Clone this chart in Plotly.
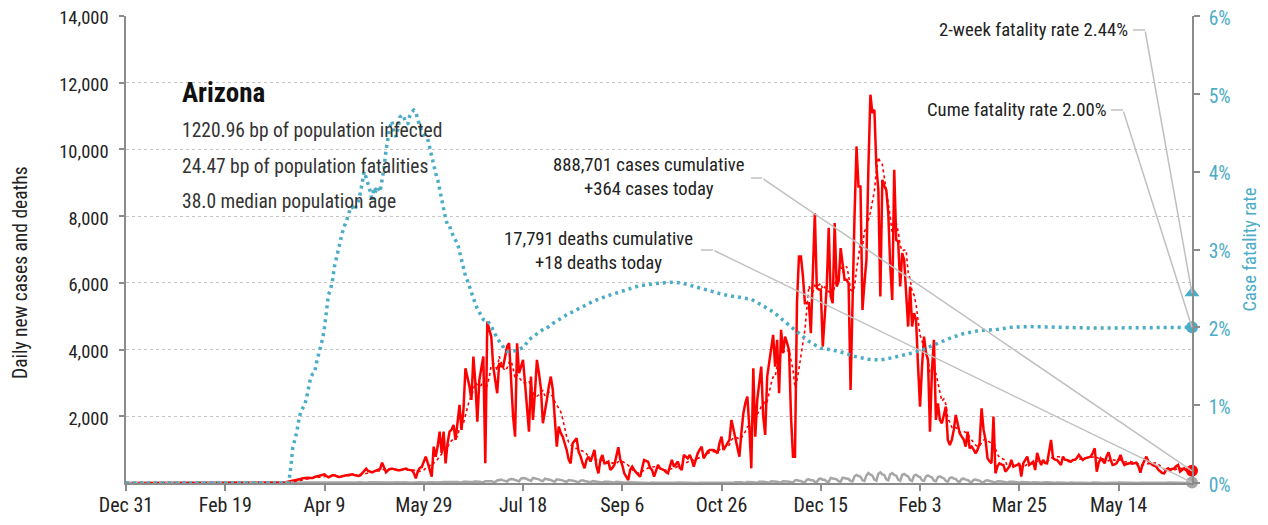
import plotly.graph_objects as go
import pandas as pd

# ---------------- data ----------------
START = "2019-12-31"
state_name = "Arizona"
stats_lines = ["1220.96 bp of population infected",
               "24.47 bp of population fatalities",
               "38.0 median population age"]
cum_cases = 888701
cum_deaths = 17791
two_week_rate = 2.44   # percent
cume_rate = 2.00       # percent

xtick_days = [0, 50, 100, 150, 200, 250, 300, 350, 400, 450, 500]
xtick_text = ["Dec 31", "Feb 19", "Apr 9", "May 29", "Jul 18", "Sep 6",
              "Oct 26", "Dec 15", "Feb 3", "Mar 25", "May 14"]
ytick_vals = [2000, 4000, 6000, 8000, 10000, 12000, 14000]
y2tick_vals = [0, 0.01, 0.02, 0.03, 0.04, 0.05, 0.06]

# daily new cases, day 0 = Dec 31 2019
cases = [
    0, 0, 0, 0, 0, 0, 0, 0, 0, 0, 0, 0, 0, 0, 0, 0, 0, 0, 0, 0,
    0, 0, 0, 0, 0, 0, 0, 0, 0, 0, 0, 0, 0, 0, 0, 0, 0, 0, 0, 0,
    0, 0, 0, 0, 0, 0, 0, 0, 0, 0, 0, 0, 0, 0, 0, 0, 0, 0, 0, 0,
    0, 0, 0, 0, 0, 0, 0, 0, 0, 0, 0, 0, 0, 0, 0,
    1, 2, 4, 6, 10, 20,
    30, 40, 50, 60, 80, 90, 110, 120, 140, 150,
    170, 160, 150, 150, 180, 200, 210, 220, 240, 260,
    210, 170, 200, 230, 230, 200, 180, 190, 210, 230,
    230, 240, 250, 260, 240, 220, 210, 230, 300, 380,
    430, 360, 330, 320, 350, 370, 400, 420, 610, 450,
    320, 380, 420, 430, 410, 390, 380, 380, 400, 420,
    430, 400, 390, 380, 300, 140, 350, 450, 480, 620,
    790, 600, 400, 190, 1090, 790, 1100, 1540, 900, 1540,
    590, 1200, 1540, 1600, 1740, 1290, 1800, 2340, 1590, 2200,
    3440, 3190, 2900, 2490, 3790, 3000, 1840, 3090, 3400, 3790,
    590, 4840, 4600, 4390, 3490, 3000, 2690, 3590, 3500, 3490,
    3800, 4090, 4190, 2990, 2000, 1390, 4190, 3290, 3500, 3690,
    2990, 2200, 1540, 3190, 1890, 2700, 3690, 3300, 2840, 1790,
    2100, 2490, 2900, 3190, 2790, 1800, 1090, 1690, 1500, 1390,
    1200, 990, 700, 590, 1190, 1250, 1340, 940, 800, 600,
    440, 700, 790, 640, 800, 990, 500, 290, 700, 840,
    590, 600, 640, 390, 450, 540, 800, 1070, 700, 540,
    290, 200, 90, 400, 490, 390, 300, 250, 190, 400,
    690, 660, 640, 450, 390, 190, 400, 540, 440, 420,
    390, 330, 290, 500, 690, 490, 560, 640, 450, 390,
    840, 780, 740, 840, 700, 490, 700, 890, 1000, 1090,
    740, 850, 940, 990, 990, 990, 950, 890, 1200, 1390,
    990, 1090, 1200, 1290, 1890, 1600, 1390, 1000, 790, 1500,
    2090, 2400, 2590, 1690, 440, 3440, 1390, 2500, 3090, 3490,
    2000, 1440, 3190, 3600, 4090, 4440, 3490, 4290, 2690, 4590,
    3890, 4390, 4200, 3990, 1990, 790, 790, 5390, 6790, 6790,
    6200, 5390, 5390, 5390, 4490, 6500, 8090, 5850, 5800, 5800,
    4090, 5000, 5890, 7650, 5590, 5390, 7790, 5890, 6040, 7040,
    6500, 6090, 6090, 5990, 2790, 5690, 8000, 10090, 8890, 8890,
    5190, 6000, 6690, 9490, 11640, 11090, 11190, 9490, 8790, 5590,
    9090, 8900, 8790, 8090, 6490, 5490, 9390, 7290, 7240, 5890,
    6890, 6690, 5500, 4690, 5890, 4690, 5090, 4890, 3500, 2290,
    3500, 4390, 3900, 3690, 1540, 3390, 4290, 1890, 2390, 1890,
    1790, 2000, 2290, 1290, 1140, 1290, 1600, 2040, 1700, 1490,
    1390, 1300, 1090, 1540, 1040, 1090, 1000, 890, 1000, 1190,
    2240, 1600, 1290, 740, 650, 590, 1990, 290, 500, 590,
    560, 540, 340, 420, 490, 690, 490, 520, 540, 590,
    190, 590, 700, 790, 540, 600, 640, 390, 900, 700,
    540, 690, 600, 590, 900, 1290, 740, 700, 690, 600,
    540, 790, 700, 690, 650, 640, 690, 700, 750, 840,
    750, 690, 740, 760, 780, 790, 900, 1040, 340, 600,
    740, 650, 590, 800, 920, 700, 540, 560, 590, 700,
    840, 650, 540, 570, 590, 600, 580, 590, 610, 500,
    310, 540, 650, 790, 650, 590, 550, 510, 490, 400,
    340, 300, 290, 400, 440, 390, 420, 440, 500, 540,
    340, 400, 440, 380, 340, 400, 364,
]

# daily new deaths, day 0 = Dec 31 2019
deaths = [
    0, 0, 0, 0, 0, 0, 0, 0, 0, 0, 0, 0, 0, 0, 0, 0, 0, 0, 0, 0,
    0, 0, 0, 0, 0, 0, 0, 0, 0, 0, 0, 0, 0, 0, 0, 0, 0, 0, 0, 0,
    0, 0, 0, 0, 0, 0, 0, 0, 0, 0, 0, 0, 0, 0, 0, 0, 0, 0, 0, 0,
    0, 0, 0, 0, 0, 0, 0, 0, 0, 0, 0, 0, 0, 0, 0, 0, 0, 0, 0, 0,
    1, 0, 2, 1, 3, 2, 4, 3, 5, 4, 6, 5, 8, 6, 10, 8, 12, 9, 14, 10,
    12, 15, 10, 8, 14, 18, 16, 12, 20, 10, 8, 15, 22, 18, 16, 14, 12, 20, 25, 18,
    15, 10, 22, 20, 17, 15, 12, 18, 25, 20, 14,
    10, 12, 18, 20, 15, 22, 14, 8, 16, 25, 18, 20, 12, 10, 15, 22, 24, 18, 20, 14,
    10, 20, 25, 30, 22, 15, 12, 18, 25, 28,
    30, 25, 15, 20, 30, 35, 28, 20, 18, 40, 45, 38, 30, 25, 35, 45, 50, 40, 22, 20, 55,
    60, 70, 55, 40, 30, 75, 90, 100, 80, 60, 45, 100, 120, 110, 95, 70, 50, 130, 150, 140,
    120, 80, 60, 150, 140, 120, 110, 70, 55, 130, 120,
    100, 90, 60, 40, 110, 100, 95, 80, 50, 35, 90, 85, 75, 60, 40, 25, 70, 80, 60, 50,
    30, 20, 55, 50, 45, 35, 20, 15, 40, 45, 35,
    30, 15, 10, 35, 30, 25, 20, 12, 8, 25, 22, 20, 18, 10, 5, 20, 18, 15, 12, 5,
    3, 15, 20, 12, 10, 5, 3, 12, 15, 10,
    8, 5, 3, 10, 15, 12, 8, 5, 3, 12, 10, 8, 6, 4, 2, 10, 12, 15, 10, 5,
    3, 15, 18, 12, 10, 6, 4, 20, 18, 15, 12,
    8, 5, 25, 30, 22, 20, 10, 6, 30, 35, 28, 25, 12, 8, 40, 45, 35, 30, 15, 10,
    50, 48, 40, 35, 18, 12, 55, 60, 45, 40,
    20, 15, 80, 90, 70, 60, 25, 20, 100, 110, 85, 80, 35, 25, 120, 130, 100, 95, 45, 30,
    150, 140, 120, 110, 50, 40, 160, 150, 130, 120, 60,
    50, 200, 240, 210, 190, 80, 60, 230, 300, 250, 220, 100, 70, 280, 320, 260, 240, 110, 80, 260,
    300, 240, 220, 100, 70, 240, 270, 230, 200, 90, 60,
    220, 250, 200, 180, 80, 60, 200, 230, 190, 170, 70, 50, 180, 200, 160, 140, 60, 40, 150, 170,
    130, 120, 50, 35, 120, 130, 100, 90,
    40, 30, 90, 100, 80, 70, 30, 20, 70, 80, 60, 50, 25, 15, 55, 60, 45, 40, 20, 12,
    40, 45, 35, 30, 15, 10, 30, 35, 25, 20, 10,
    8, 25, 30, 20, 18, 8, 5, 20, 25, 18, 15, 6, 4, 18, 20, 15, 12, 5, 3, 15,
    18, 12, 10, 4, 3, 14, 16, 12, 10, 4, 3,
    12, 15, 10, 8, 4, 3, 12, 14, 10, 8, 3, 2, 10, 12, 9, 8, 3, 2, 12, 14,
    10, 8, 3, 2, 10, 12, 9, 7, 3, 2, 8,
    10, 12, 9, 8, 3, 2, 10, 14, 11, 9, 3, 2, 12, 15, 10, 8, 3, 2, 10, 18,
]

# cumulative case fatality rate (percent), sampled at these day numbers
cfr_day = [0, 81, 82, 83, 84, 85, 86, 87, 88, 89, 90, 91, 92, 93, 94, 95, 96, 97, 98, 99,
           100, 101, 102, 103, 104, 105, 106, 107, 108, 109, 110, 111, 112, 113, 114, 115,
           116, 117, 118, 119, 120, 121, 122, 123, 124, 125, 126, 127, 128, 129, 130, 131,
           132, 133, 134, 135, 136, 137, 138, 139, 140, 141, 142, 143, 144, 145, 146, 147,
           148, 149, 150, 151, 152, 153, 154, 155, 156, 157, 158, 159, 160, 161, 162, 163,
           164, 165, 166, 167, 168, 169, 170, 171, 172, 173, 174, 175, 176, 177, 178, 179,
           180, 181, 182, 183, 184, 185, 186, 187, 188, 189, 190, 191, 192, 193, 194, 195,
           196, 197, 198, 199, 200, 201, 202, 203, 204, 205, 206, 207, 208, 209, 210, 211,
           212, 213, 214, 215, 222, 228, 235, 242, 250, 258, 266, 274, 280, 287, 294, 301,
           308, 315, 320, 326, 332, 337, 341, 344, 350, 356, 362, 368, 374, 380, 386, 390,
           396, 402, 409, 416, 422, 430, 438, 446, 455, 463, 472, 488, 505, 521, 537]
cfr_pct = [0, 0, 0.0, 0.2, 0.45, 0.55, 0.65, 0.8, 0.92, 0.96, 1.0, 1.1, 1.24, 1.35, 1.4, 1.42,
           1.55, 1.65, 1.75, 1.85, 2.0, 2.25, 2.42, 2.48, 2.6, 2.78, 2.9, 3.0, 3.12, 3.22,
           3.3, 3.36, 3.45, 3.52, 3.55, 3.5, 3.56, 3.62, 3.72, 3.9, 4.0, 3.92, 3.85, 3.75,
           3.62, 3.8, 3.76, 3.8, 3.74, 3.88, 4.05, 4.28, 4.45, 4.58, 4.65, 4.48, 4.45, 4.55,
           4.7, 4.73, 4.7, 4.62, 4.62, 4.72, 4.77, 4.79, 4.76, 4.65, 4.58, 4.52, 4.47, 4.44,
           4.42, 4.30, 4.2, 4.06, 3.98, 3.9, 3.76, 3.62, 3.5, 3.4, 3.31, 3.3, 3.22, 3.16,
           3.12, 3.08, 2.98, 2.86, 2.74, 2.66, 2.6, 2.52, 2.46, 2.36, 2.3, 2.24, 2.2, 2.16,
           2.1, 2.09, 2.09, 2.05, 2.02, 1.96, 1.9, 1.86, 1.82, 1.79, 1.75, 1.71, 1.69, 1.69,
           1.69, 1.69, 1.7, 1.71, 1.72, 1.73, 1.74, 1.77, 1.81, 1.84, 1.86, 1.88, 1.9, 1.92,
           1.94, 1.96, 1.98, 1.99, 1.99, 2.01, 2.03, 2.05, 2.16, 2.24, 2.33, 2.40, 2.47,
           2.53, 2.56, 2.58, 2.57, 2.52, 2.47, 2.42, 2.39, 2.36, 2.29, 2.20, 2.07, 1.97,
           1.89, 1.82, 1.73, 1.71, 1.67, 1.62, 1.59, 1.58, 1.61, 1.63, 1.67, 1.72, 1.80,
           1.87, 1.92, 1.96, 1.97, 2.00, 2.01, 2.01, 2.00, 1.99, 1.99, 1.99, 2.00]

# ---------------- build ----------------
start = pd.Timestamp(START)
dates = start + pd.to_timedelta(range(len(cases)), unit="D")
death_dates = start + pd.to_timedelta(range(len(deaths)), unit="D")
cfr_dates = start + pd.to_timedelta(cfr_day, unit="D")
cfr_frac = [v / 100 for v in cfr_pct]
avg7 = pd.Series(cases).rolling(7, min_periods=1).mean()
last_date = dates[-1]
xtick_dates = start + pd.to_timedelta(xtick_days, unit="D")

RED = "#ff0000"
GRAY = "#a6a6a6"
TEAL = "#4bacc6"
AXIS = "#8c8c8c"
LEAD = "#c0c0c0"
FONT = "Roboto Condensed, Roboto, sans-serif"

fig = go.Figure()
fig.add_trace(go.Scatter(x=dates, y=cases, mode="lines",
                         line=dict(color=RED, width=2.5), cliponaxis=False))
fig.add_trace(go.Scatter(x=death_dates, y=deaths, mode="lines",
                         line=dict(color=GRAY, width=2.5), cliponaxis=False))
fig.add_trace(go.Scatter(x=dates, y=avg7, mode="lines",
                         line=dict(color=RED, width=1.6, dash="dot"), cliponaxis=False))
fig.add_trace(go.Scatter(x=cfr_dates, y=cfr_frac, mode="lines", yaxis="y2",
                         line=dict(color=TEAL, width=3.5, dash="3px,4px"), cliponaxis=False))

# end markers
fig.add_trace(go.Scatter(x=[last_date], y=[cases[-1]], mode="markers",
                         marker=dict(color=RED, size=12), cliponaxis=False))
fig.add_trace(go.Scatter(x=[last_date], y=[deaths[-1]], mode="markers",
                         marker=dict(color=GRAY, size=12), cliponaxis=False))
fig.add_trace(go.Scatter(x=[last_date], y=[cume_rate / 100], mode="markers", yaxis="y2",
                         marker=dict(color=TEAL, size=12), cliponaxis=False))
fig.add_trace(go.Scatter(x=[last_date], y=[two_week_rate / 100], mode="markers", yaxis="y2",
                         marker=dict(color=TEAL, size=13, symbol="triangle-up"), cliponaxis=False))

# ---------------- layout ----------------
# page offset of the plot div (default body margin) and the plot area in page pixels
OFF = 8
L, R, T, B = 126, 1192, 16, 483
FIG_W, FIG_H = 1268 - OFF, 525 - OFF


def px(x):
    return (x - L) / (R - L)


def py(y):
    return (B - y) / (B - T)


annotations = []
annotations.append(dict(x=px(180), y=py(93), xref="paper", yref="paper", xanchor="left",
                        yanchor="middle", showarrow=False, text="<b>%s</b>" % state_name,
                        font=dict(size=27, color="#111111")))
for i, line in enumerate(stats_lines):
    annotations.append(dict(x=px(180), y=py(131 + 35 * i), xref="paper", yref="paper",
                            xanchor="left", yanchor="middle", showarrow=False, text=line,
                            font=dict(size=19.5, color="#333333")))

label_font = dict(size=18.7, color="#222222")
annotations.append(dict(x=px(1130), y=py(30), xref="paper", yref="paper", xanchor="right",
                        yanchor="middle", showarrow=False,
                        text="2-week fatality rate %.2f%%" % two_week_rate, font=label_font))
annotations.append(dict(x=px(1109), y=py(110), xref="paper", yref="paper", xanchor="right",
                        yanchor="middle", showarrow=False,
                        text="Cume fatality rate %.2f%%" % cume_rate, font=label_font))
annotations.append(dict(x=px(649), y=py(177), xref="paper", yref="paper", xanchor="center",
                        yanchor="middle", showarrow=False, align="center",
                        text="{:,} cases cumulative<br>+{:,} cases today".format(cum_cases, cases[-1]),
                        font=label_font))
annotations.append(dict(x=px(598), y=py(251), xref="paper", yref="paper", xanchor="center",
                        yanchor="middle", showarrow=False, align="center",
                        text="{:,} deaths cumulative<br>+{:,} deaths today".format(cum_deaths, deaths[-1]),
                        font=label_font))
# left axis title (placed as rotated text, offset below centre like the reference)
annotations.append(dict(x=px(21), y=py(273), xref="paper", yref="paper", xanchor="center",
                        yanchor="middle", showarrow=False, textangle=-90, borderpad=0,
                        text="Daily new cases and deaths",
                        font=dict(size=19.5, color="#222222")))


# diagonal leader lines (head on the data point, tail at the label's stub)
def leader(yval, yref, tail_x, tail_y, head_y_px):
    return dict(x=last_date, y=yval, xref="x", yref=yref, text="", showarrow=True,
                arrowhead=0, arrowwidth=1.5, arrowcolor=LEAD, standoff=0,
                ax=tail_x - R, ay=tail_y - head_y_px, axref="pixel", ayref="pixel")


annotations.append(leader(two_week_rate / 100, "y2", 1145, 30, B - two_week_rate / 6 * (B - T)))
annotations.append(leader(cume_rate / 100, "y2", 1123, 110, B - cume_rate / 6 * (B - T)))
annotations.append(leader(cases[-1], "y", 762, 178, B - cases[-1] / 14000 * (B - T)))
annotations.append(leader(deaths[-1], "y", 713, 250, B - deaths[-1] / 14000 * (B - T)))

shapes = []
for (x0, x1, yy) in [(1133, 1145, 30), (1111, 1123, 110), (751, 762, 178), (701, 713, 250)]:
    shapes.append(dict(type="line", xref="paper", yref="paper", x0=px(x0), x1=px(x1),
                       y0=py(yy), y1=py(yy), line=dict(color=LEAD, width=1.5)))

fig.update_layout(
    width=FIG_W, height=FIG_H,
    margin=dict(l=L - OFF, r=1268 - R, t=T - OFF, b=525 - B, autoexpand=False),
    paper_bgcolor="white", plot_bgcolor="white",
    showlegend=False,
    font=dict(family=FONT, size=19, color="#222222"),
    annotations=annotations,
    shapes=shapes,
    xaxis=dict(type="date", range=[start, last_date], tickmode="array", automargin=False,
               tickvals=xtick_dates, ticktext=xtick_text, showgrid=False, zeroline=False,
               showline=True, linecolor=AXIS, linewidth=1.5, ticks="outside", ticklen=6,
               tickcolor=AXIS, tickwidth=1.5, ticklabelstandoff=-3,
               tickfont=dict(size=20, color="#222222")),
    yaxis=dict(range=[0, 14000], tickmode="array", tickvals=ytick_vals, tickformat=",",
               automargin=False, ticklabeloverflow="allow", ticklabelshift=2,
               showgrid=True, gridcolor="#c4c4c4", griddash="dot", gridwidth=1.3,
               zeroline=False, showline=True, linecolor=AXIS, linewidth=1.5,
               ticks="outside", ticklen=5, tickcolor=AXIS, tickwidth=1.5,
               ticklabelstandoff=7,
               tickfont=dict(size=18.5, color="#222222")),
    yaxis2=dict(range=[0, 0.06], overlaying="y", side="right", tickmode="array",
                automargin=False, ticklabeloverflow="allow", ticklabelshift=2,
                tickvals=y2tick_vals, tickformat=".0%", showgrid=False, zeroline=False,
                showline=True, linecolor=AXIS, linewidth=1.5, ticks="outside", ticklen=6,
                tickcolor=AXIS, tickwidth=1.5, ticklabelstandoff=5,
                tickfont=dict(size=19.5, color=TEAL),
                title=dict(text="Case fatality rate", font=dict(size=18.5, color=TEAL),
                           standoff=13)),
)

fig.write_html("out.html")
